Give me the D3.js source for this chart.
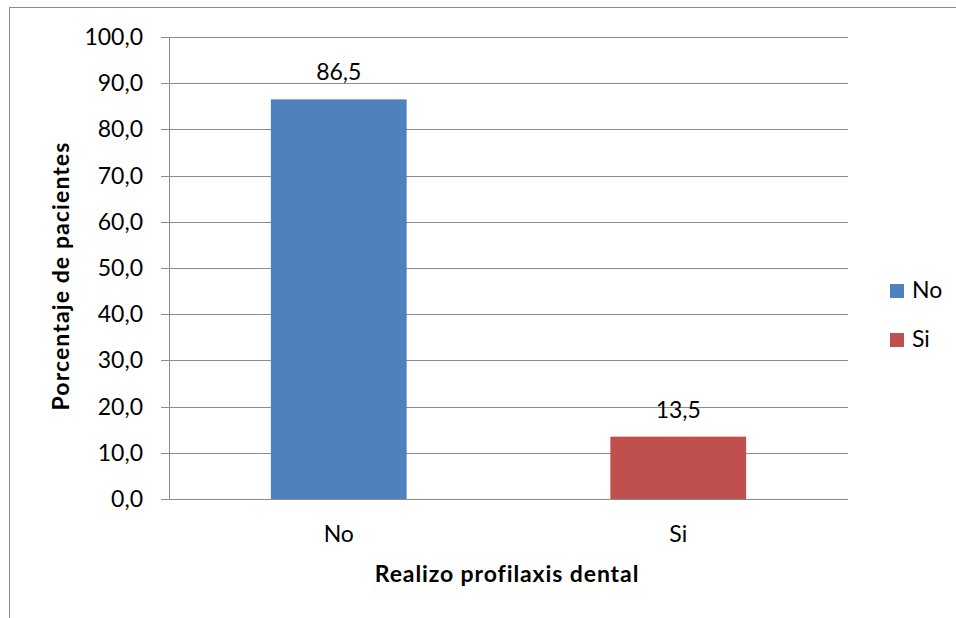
<!DOCTYPE html>
<html><head><meta charset="utf-8">
<script src="https://cdn.jsdelivr.net/npm/d3@7"></script>
<style>body{margin:0;background:#fff}svg{display:block}text{font-family:Lato,"Open Sans",sans-serif;fill:#000}</style>
</head><body>
<script>
const categories = ["No", "Si"];
const values = [86.5, 13.5];
const colors = ["#4f81bd", "#c0504d"];
const yTicks = [0,10,20,30,40,50,60,70,80,90,100];
const yTitle = "Porcentaje de pacientes";
const xTitle = "Realizo profilaxis dental";

(function(){
const W = 956, H = 618, FS = 23;
const svg = d3.select("body").append("svg").attr("width", W).attr("height", H);
svg.append("rect").attr("x", 9.5).attr("y", 7.5).attr("width", W).attr("height", H)
  .attr("fill", "none").attr("stroke", "#8c8c8c").attr("stroke-width", 1);

const pL = 169, pR = 848, pT = 37, pB = 499;
const y = d3.scaleLinear().domain([0, 100]).range([pB, pT]);
const x = d3.scaleBand().domain(categories).range([pL, pR]).padding(0);
const fmt = v => v.toFixed(1).replace(".", ",");

svg.append("g").selectAll("line").data(yTicks).join("line")
  .attr("x1", pL - 8).attr("x2", pR)
  .attr("y1", d => Math.round(y(d)) + 0.5).attr("y2", d => Math.round(y(d)) + 0.5)
  .attr("stroke", "#8c8c8c").attr("stroke-width", 1);
svg.append("line").attr("x1", pL + 0.5).attr("x2", pL + 0.5).attr("y1", pT).attr("y2", pB)
  .attr("stroke", "#8c8c8c");
svg.append("g").selectAll("text").data(yTicks).join("text")
  .attr("x", 143).attr("y", d => y(d)).attr("dy", "0.35em")
  .attr("text-anchor", "end").attr("font-size", FS).text(d => fmt(d));

const bw = x.bandwidth() * 0.4;
svg.append("g").selectAll("rect").data(values).join("rect")
  .attr("x", (d, i) => x(categories[i]) + x.bandwidth() / 2 - bw / 2)
  .attr("width", bw)
  .attr("y", d => y(d)).attr("height", d => y(0) - y(d))
  .attr("fill", (d, i) => colors[i]);
svg.append("g").selectAll("text").data(values).join("text")
  .attr("x", (d, i) => x(categories[i]) + x.bandwidth() / 2)
  .attr("y", d => y(d) - 19)
  .attr("text-anchor", "middle").attr("font-size", FS).text(d => fmt(d));
svg.append("g").selectAll("text").data(categories).join("text")
  .attr("x", d => x(d) + x.bandwidth() / 2).attr("y", 542)
  .attr("text-anchor", "middle").attr("font-size", FS).text(d => d);
svg.append("text").attr("x", 507).attr("y", 582).attr("text-anchor", "middle")
  .attr("font-size", FS).attr("font-weight", "bold").attr("letter-spacing", 0.9).text(xTitle);
svg.append("text").attr("transform", "translate(69,276) rotate(-90)").attr("text-anchor", "middle")
  .attr("font-size", FS).attr("font-weight", "bold").attr("letter-spacing", 1.1).text(yTitle);
const lg = svg.append("g").selectAll("g").data(categories).join("g")
  .attr("transform", (d, i) => `translate(890,${284 + i * 49})`);
lg.append("rect").attr("width", 14).attr("height", 14).attr("fill", (d, i) => colors[i]);
lg.append("text").attr("x", 22).attr("y", 14).attr("font-size", FS).text(d => d);
})();
</script>
</body></html>
